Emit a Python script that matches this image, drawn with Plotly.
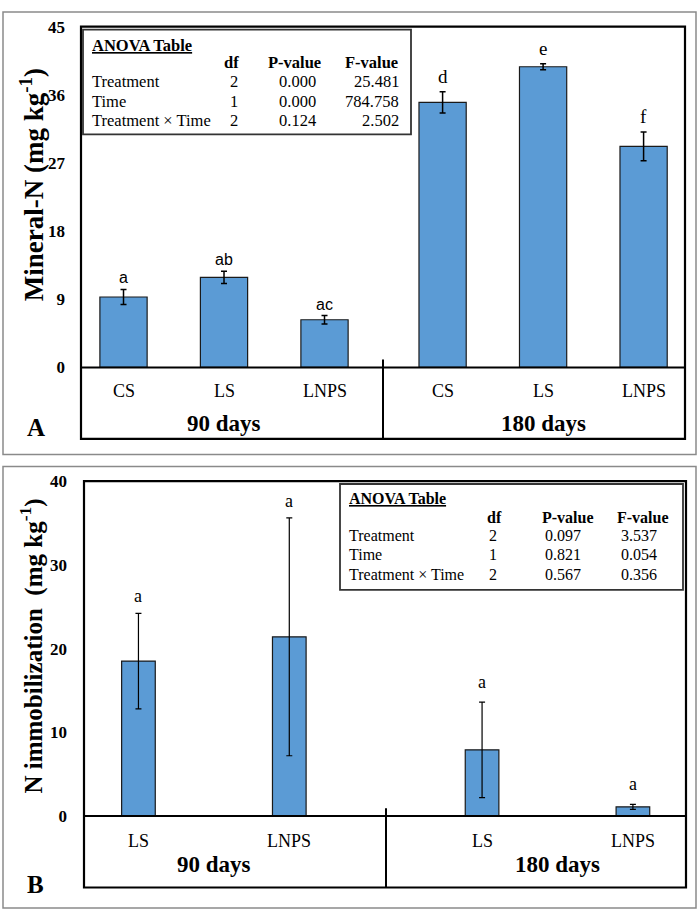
import plotly.graph_objects as go

# ---------------- data ----------------
groups = ["90 days", "180 days"]

# Panel A: Mineral-N
cats_A = ["CS", "LS", "LNPS"]
mineral_90 = [9.3, 11.9, 6.3]
mineral_90_err = [1.0, 0.8, 0.55]
mineral_180 = [35.0, 39.7, 29.2]
mineral_180_err = [1.4, 0.4, 1.9]
letters_A_90 = ["a", "ab", "ac"]
letters_A_180 = ["d", "e", "f"]
yticks_A = [0, 9, 18, 27, 36, 45]

# Panel B: N immobilization
cats_B = ["LS", "LNPS"]
immob_90 = [18.5, 21.4]
immob_90_err = [5.7, 14.2]
immob_180 = [7.9, 1.1]
immob_180_err = [5.7, 0.3]
letters_B_90 = ["a", "a"]
letters_B_180 = ["a", "a"]
yticks_B = [0, 10, 20, 30, 40]

# ANOVA tables
anova_terms = ["Treatment", "Time", "Treatment × Time"]
anova_df = [2, 1, 2]
anova_A_p = ["0.000", "0.000", "0.124"]
anova_A_f = ["25.481", "784.758", "2.502"]
anova_B_p = ["0.097", "0.821", "0.567"]
anova_B_f = ["3.537", "0.054", "0.356"]

# ---------------- layout helpers ----------------
W, H = 700, 922
def X(px): return px / W
def Y(py): return 1 - py / H

SERIF = "Liberation Serif"
SANS = "Liberation Sans"
BAR = "#5B9BD5"
EDGE = "#1a1a1a"

gapA = 3.175
gapB = 2.278
posA = [[g * gapA + i for i in range(len(cats_A))] for g in range(2)]
posB = [[g * gapB + i for i in range(len(cats_B))] for g in range(2)]

fig = go.Figure()

def add_bars(xpos, vals, errs, xa, ya, width, thick, cw):
    fig.add_trace(go.Bar(
        x=xpos, y=vals, width=width, xaxis=xa, yaxis=ya,
        marker=dict(color=BAR, line=dict(color=EDGE, width=1.2)),
        error_y=dict(type="data", array=errs, visible=True, color="black",
                     thickness=thick, width=cw),
        showlegend=False, hoverinfo="skip"))

add_bars(posA[0], mineral_90, mineral_90_err, "x", "y", 0.47, 1.5, 3)
add_bars(posA[1], mineral_180, mineral_180_err, "x", "y", 0.47, 1.5, 3)
add_bars(posB[0], immob_90, immob_90_err, "x2", "y2", 0.223, 1.2, 3)
add_bars(posB[1], immob_180, immob_180_err, "x2", "y2", 0.223, 1.2, 3)

# plot-area pixel boxes
A_l, A_r, A_t, A_z, A_b, A_div = 81, 685, 18, 366, 439, 383
B_l, B_r, B_t, B_z, B_b, B_div = 84, 686, 482, 824, 897, 386

tickfont = dict(family=SERIF, size=17, color="black", weight="bold")
fig.update_layout(
    width=W, height=H, margin=dict(l=0, r=0, t=0, b=0),
    paper_bgcolor="white", plot_bgcolor="rgba(0,0,0,0)",
    barmode="overlay",
    xaxis=dict(domain=[X(A_l), X(A_r)], range=[-0.423, 5.587],
               showticklabels=False, showgrid=False, zeroline=False, ticks="", anchor="y"),
    yaxis=dict(domain=[Y(A_z), Y(A_t)], range=[0, 45], tickvals=yticks_A,
               showgrid=False, zeroline=False, ticks="", anchor="x",
               ticklabelstandoff=15, tickfont=tickfont),
    xaxis2=dict(domain=[X(B_l), X(B_r)], range=[-0.361, 3.63],
                showticklabels=False, showgrid=False, zeroline=False, ticks="", anchor="y2"),
    yaxis2=dict(domain=[Y(B_z), Y(B_t)], range=[0, 40], tickvals=yticks_B,
                showgrid=False, zeroline=False, ticks="", anchor="x2",
                ticklabelstandoff=16, tickfont=tickfont),
)

shapes = []
def rect(x0, y0, x1, y1, color="black", w=2):
    shapes.append(dict(type="rect", xref="paper", yref="paper",
                       x0=X(x0), x1=X(x1), y0=Y(y0), y1=Y(y1),
                       line=dict(color=color, width=w), layer="above"))
def line(x0, y0, x1, y1, color="black", w=2):
    shapes.append(dict(type="line", xref="paper", yref="paper",
                       x0=X(x0), x1=X(x1), y0=Y(y0), y1=Y(y1),
                       line=dict(color=color, width=w), layer="above"))

# outer gray frames
rect(3, 3, 696, 455, "#8a8a8a", 1.5)
rect(3, 467, 696, 918, "#8a8a8a", 1.5)
# panel A box
rect(A_l, A_t, A_r, A_b, "black", 2.2)
line(A_l, A_z, A_r, A_z, "black", 2)
line(A_div, A_z - 8, A_div, A_b, "black", 2)
# panel B box
rect(B_l, B_t, B_r, B_b, "black", 2.2)
line(B_l, B_z, B_r, B_z, "black", 2)
line(B_div, B_z - 8, B_div, B_b, "black", 2)
# ANOVA boxes
rect(83, 21, 411, 128, "#333333", 1.8)
rect(340, 485, 683, 593, "#333333", 1.8)

fig.update_layout(shapes=shapes)

ann = []
def text(x, y, s, size, xanchor="center", yanchor="middle", bold=False,
         family=SERIF, xref="paper", yref="paper", angle=0, yshift=0):
    ann.append(dict(x=x, y=y, xref=xref, yref=yref, text=s, showarrow=False,
                    xanchor=xanchor, yanchor=yanchor, textangle=angle, yshift=yshift,
                    font=dict(family=family, size=size, color="black",
                              weight="bold" if bold else "normal")))

# y-axis titles
text(X(32), Y(180), "Mineral-N (mg kg<sup>-1</sup>)", 27, bold=True, angle=-90)
text(X(32), Y(651), "N immobilization  (mg kg<sup>-1</sup>)", 25, bold=True, angle=-90)
# panel letters
text(X(36), Y(427), "A", 25, bold=True)
text(X(35), Y(894), "B", 25, bold=True)

# category and group labels
for g in range(2):
    for i, c in enumerate(cats_A):
        text(posA[g][i], Y(390), c, 18, xref="x")
    text(sum(posA[g]) / 3, Y(423), groups[g], 23, bold=True, xref="x")
for g in range(2):
    for i, c in enumerate(cats_B):
        text(posB[g][i], Y(849), c, 18, xref="x2")
    text(sum(posB[g]) / 2, Y(874), groups[g], 23, bold=True, xref="x2")

# significance letters
for i in range(3):
    text(posA[0][i], mineral_90[i] + mineral_90_err[i], letters_A_90[i], 16,
         yanchor="bottom", family=SANS, xref="x", yref="y", yshift=1)
    text(posA[1][i], mineral_180[i] + mineral_180_err[i], letters_A_180[i], 19,
         yanchor="bottom", family=SERIF, xref="x", yref="y", yshift=3)
for i in range(2):
    text(posB[0][i], immob_90[i] + immob_90_err[i], letters_B_90[i], 18,
         yanchor="bottom", family=SERIF, xref="x2", yref="y2", yshift=5)
    text(posB[1][i], immob_180[i] + immob_180_err[i], letters_B_180[i], 18,
         yanchor="bottom", family=SERIF, xref="x2", yref="y2", yshift=8)

# ANOVA table A
rowsA = [74, 94, 114]
fsA = 16.5
text(X(90), Y(37), "<u>ANOVA Table</u>", fsA, xanchor="left", bold=True)
text(X(231), Y(55), "df", fsA, bold=True)
text(X(294), Y(55), "P-value", fsA, bold=True)
text(X(400), Y(55), "F-value", fsA, xanchor="right", bold=True)
for r, yy in enumerate(rowsA):
    text(X(90), Y(yy), anova_terms[r], fsA, xanchor="left")
    text(X(234), Y(yy), str(anova_df[r]), fsA)
    text(X(297), Y(yy), anova_A_p[r], fsA)
    text(X(401), Y(yy), anova_A_f[r], fsA, xanchor="right")

# ANOVA table B
rowsB = [538, 557, 577]
fsB = 16
text(X(347), Y(500), "<u>ANOVA Table</u>", fsB, xanchor="left", bold=True)
text(X(494), Y(519), "df", fsB, bold=True)
text(X(568), Y(519), "P-value", fsB, bold=True)
text(X(643), Y(519), "F-value", fsB, bold=True)
for r, yy in enumerate(rowsB):
    text(X(347), Y(yy), anova_terms[r], fsB, xanchor="left")
    text(X(493), Y(yy), str(anova_df[r]), fsB)
    text(X(563), Y(yy), anova_B_p[r], fsB)
    text(X(639), Y(yy), anova_B_f[r], fsB)

fig.update_layout(annotations=ann)
fig.write_html("out.html",
               config={"displayModeBar": False},
               post_script="document.body.style.margin='0';"
                           "document.body.style.overflow='hidden';")
